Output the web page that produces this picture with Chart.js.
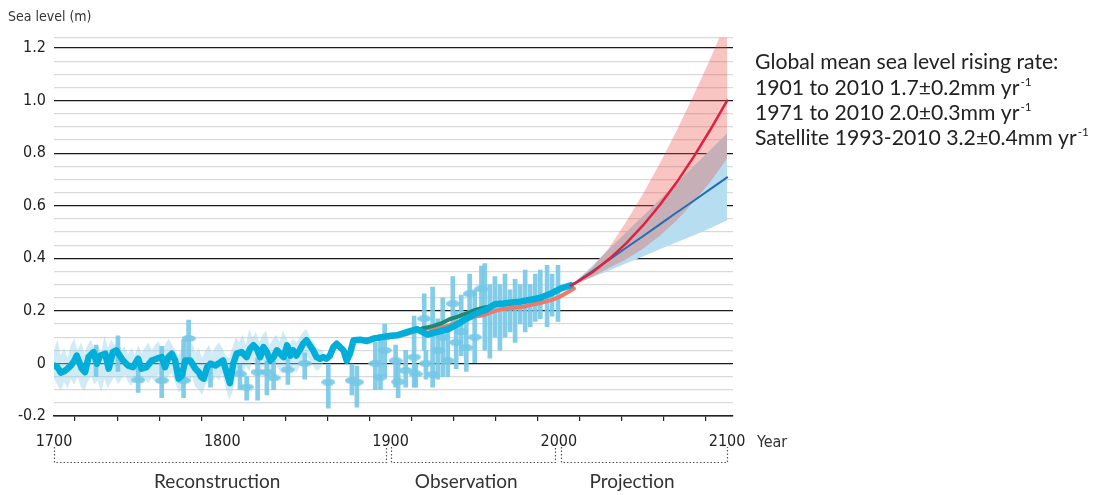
<!DOCTYPE html>
<html>
<head>
<meta charset="utf-8">
<script src="https://cdn.jsdelivr.net/npm/chart.js@4.4.1/dist/chart.umd.min.js"></script>
<style>
html, body { margin: 0; padding: 0; background: #fff; }
#wrap { width: 1104px; height: 495px; }
</style>
</head>
<body>
<div id="wrap"><canvas id="canvas" width="1104" height="495"></canvas></div>
<script>
// reconstruction + observed mean (thick cyan)
var cyanYears = [1700, 1702, 1704, 1706, 1708, 1710, 1712, 1713.5, 1715, 1716.5, 1718.5, 1720.5, 1723.5, 1725.5, 1727.5, 1730.5, 1732.5, 1735, 1737, 1739,
	1741, 1744, 1747, 1750, 1752, 1755, 1758, 1761, 1764, 1766, 1768, 1770, 1772, 1774, 1776, 1778, 1781, 1784, 1786, 1787.5,
	1789, 1791, 1793, 1796, 1799, 1800.5, 1802.5, 1804.5, 1806.5, 1808.5, 1811.5, 1814.5, 1816.5, 1818.5, 1820.5, 1822.5, 1824.5, 1826.5, 1828.5, 1830.5,
	1832.5, 1834.5, 1836.5, 1838.5, 1840.5, 1842, 1844, 1846, 1848, 1850, 1852, 1854, 1856, 1858, 1860, 1862, 1864, 1866, 1868, 1870,
	1872, 1874, 1876, 1878, 1882, 1886, 1890, 1895, 1900, 1904, 1910, 1916, 1922, 1928, 1934, 1940, 1945, 1951, 1957, 1962,
	1967, 1972, 1977, 1983, 1989, 1995, 2001, 2007];
var cyanValues = [-0.008, -0.014, -0.035, -0.030, -0.020, -0.008, 0.010, 0.030, 0.005, -0.020, -0.033, 0.024, 0.043, -0.001, 0.030, 0.037, -0.020, 0.043, 0.050, 0.030,
	0.011, -0.008, -0.014, 0.018, -0.020, -0.014, 0.011, 0.018, 0.024, -0.014, 0.024, 0.037, 0.011, -0.058, -0.046, 0.011, 0.011, -0.020, -0.033, -0.052,
	-0.058, -0.014, -0.001, -0.008, 0.005, 0.011, -0.033, -0.075, -0.001, 0.037, 0.043, 0.024, 0.056, 0.069, 0.056, 0.024, 0.062, 0.043, 0.011, 0.024,
	0.050, 0.037, 0.024, 0.069, 0.030, 0.050, 0.030, 0.050, 0.075, 0.088, 0.069, 0.050, 0.024, 0.018, 0.024, 0.018, 0.030, 0.062, 0.075, 0.062,
	0.050, 0.010, 0.040, 0.088, 0.090, 0.085, 0.095, 0.100, 0.105, 0.107, 0.120, 0.130, 0.110, 0.120, 0.130, 0.150, 0.170, 0.190, 0.205, 0.225,
	0.228, 0.232, 0.235, 0.242, 0.250, 0.265, 0.285, 0.297];

// uncertainty of the reconstruction
var bandYears = [1700, 1702, 1704, 1706, 1708, 1710, 1712, 1714, 1716, 1718, 1720, 1722, 1724, 1726, 1728, 1730, 1732, 1734, 1736, 1738,
	1740, 1742, 1744, 1746, 1748, 1750, 1752, 1754, 1756, 1758, 1760, 1762, 1764, 1766, 1768, 1770, 1772, 1774, 1776, 1778,
	1780, 1782, 1784, 1786, 1788, 1790, 1792, 1794, 1796, 1798, 1800, 1802, 1804, 1806, 1808, 1810, 1812, 1814, 1816, 1818,
	1820, 1822, 1824, 1826, 1828, 1830, 1832, 1834, 1836, 1838, 1840, 1842, 1844, 1846, 1848, 1850, 1852, 1854, 1856, 1858, 1860];
var bandUpper = [0.050, 0.090, 0.030, 0.060, 0.020, 0.070, 0.095, 0.050, 0.080, 0.040, 0.070, 0.090, 0.050, 0.070, 0.040, 0.105, 0.060, 0.090, 0.070, 0.100,
	0.050, 0.065, 0.035, 0.060, 0.030, 0.070, 0.040, 0.060, 0.080, 0.050, 0.070, 0.085, 0.055, 0.070, 0.095, 0.075, 0.050, 0.030, 0.060, 0.090,
	0.060, 0.080, 0.040, 0.060, 0.020, 0.050, 0.070, 0.040, 0.065, 0.080, 0.060, 0.030, 0.020, 0.060, 0.100, 0.080, 0.110, 0.070, 0.130, 0.100,
	0.120, 0.080, 0.110, 0.125, 0.070, 0.090, 0.110, 0.080, 0.125, 0.100, 0.070, 0.095, 0.080, 0.100, 0.120, 0.130, 0.100, 0.085, 0.060, 0.055, 0.050];
var bandLower = [-0.058, -0.080, -0.105, -0.070, -0.095, -0.060, -0.080, -0.050, -0.090, -0.105, -0.070, -0.050, -0.080, -0.065, -0.110, -0.060, -0.095, -0.070, -0.050, -0.080,
	-0.060, -0.045, -0.070, -0.085, -0.060, -0.045, -0.080, -0.060, -0.075, -0.055, -0.070, -0.040, -0.060, -0.080, -0.050, -0.035, -0.070, -0.110, -0.100, -0.060,
	-0.075, -0.050, -0.090, -0.100, -0.120, -0.080, -0.060, -0.075, -0.050, -0.065, -0.040, -0.090, -0.140, -0.110, -0.040, -0.020, -0.040, -0.010, -0.030, 0.010,
	-0.020, -0.045, -0.010, -0.030, -0.050, -0.020, 0.000, -0.030, -0.040, 0.010, -0.030, -0.010, -0.035, -0.010, 0.020, 0.030, 0.010, -0.010, -0.030, -0.020, 0.000];

// other observation curves
var greenYears = [1900, 1905, 1910, 1915, 1920, 1925, 1930, 1935, 1940, 1945, 1950, 1955, 1960, 1965, 1970, 1975, 1980, 1985, 1990];
var greenValues = [0.105, 0.112, 0.118, 0.125, 0.135, 0.142, 0.152, 0.168, 0.178, 0.190, 0.203, 0.212, 0.218, 0.224, 0.228, 0.233, 0.238, 0.243, 0.248];
var salmonYears = [1880, 1885, 1890, 1895, 1900, 1905, 1910, 1915, 1920, 1925, 1930, 1935, 1940, 1945, 1950, 1955, 1960, 1965, 1970, 1975,
	1980, 1985, 1990, 1995, 2000, 2005, 2009];
var salmonValues = [0.090, 0.092, 0.095, 0.098, 0.100, 0.105, 0.112, 0.125, 0.135, 0.130, 0.135, 0.145, 0.157, 0.168, 0.178, 0.183, 0.195, 0.205, 0.210, 0.213,
	0.217, 0.225, 0.232, 0.240, 0.252, 0.270, 0.285];

// individual records with error bars (null = no marker)
var gaugeYears = [1725, 1738, 1750, 1764, 1777, 1780, 1793, 1810.5, 1814.5, 1821, 1826.5, 1830.5, 1839, 1849, 1863, 1877, 1880, 1891, 1894, 1896.5,
	1903, 1904.5, 1909, 1914, 1915, 1920, 1921, 1925, 1928, 1931, 1934, 1937, 1939, 1942, 1945, 1947, 1950, 1954, 1956, 1959,
	1962, 1965, 1968, 1971, 1974, 1977, 1980, 1983, 1986, 1989, 1993, 1996, 1999.5];
var gaugeValues = [null, null, -0.063, -0.065, -0.065, 0.095, null, -0.040, -0.090, -0.033, -0.033, -0.055, -0.024, 0.000, -0.071, -0.065, -0.071, 0.000, -0.052, 0.050,
	0.010, -0.070, -0.027, 0.024, -0.040, 0.170, 0.000, -0.042, 0.050, 0.100, 0.010, 0.227, 0.080, 0.120, 0.060, 0.265, 0.100, 0.284, null, null,
	null, null, null, null, null, null, null, null, null, null, null, null, null];
var gaugeLow = [-0.050, -0.030, -0.110, -0.130, -0.130, 0.010, -0.090, -0.100, -0.140, -0.140, -0.120, -0.100, -0.080, -0.060, -0.170, -0.120, -0.166, -0.100, -0.100, -0.050,
	-0.090, -0.130, -0.090, -0.090, -0.090, 0.050, -0.060, -0.090, -0.060, -0.050, -0.050, 0.140, -0.020, 0.030, -0.030, 0.180, 0.000, 0.200, 0.050, 0.020,
	0.100, 0.050, 0.100, 0.120, 0.080, 0.150, 0.120, 0.140, 0.160, 0.170, 0.140, 0.180, 0.160];
var gaugeHigh = [0.070, 0.105, -0.015, 0.065, 0.090, 0.165, 0.010, 0.000, -0.050, 0.020, 0.010, 0.010, 0.020, 0.040, 0.000, 0.000, -0.010, 0.080, 0.110, 0.150,
	0.070, 0.010, 0.050, 0.180, 0.000, 0.265, 0.050, 0.290, 0.170, 0.250, 0.150, 0.330, 0.200, 0.260, 0.180, 0.340, 0.280, 0.370, 0.380, 0.300,
	0.330, 0.300, 0.340, 0.280, 0.320, 0.300, 0.355, 0.300, 0.340, 0.355, 0.373, 0.340, 0.373];

// projections
var projYears = [2007, 2010, 2020, 2030, 2040, 2050, 2060, 2070, 2080, 2090, 2100];
var highMean = [0.297, 0.306, 0.347, 0.398, 0.457, 0.525, 0.603, 0.689, 0.785, 0.889, 1.000];
var highUpper = [0.297, 0.313, 0.365, 0.441, 0.539, 0.645, 0.761, 0.885, 1.019, 1.158, 1.310];
var highLower = [0.297, 0.300, 0.331, 0.364, 0.396, 0.436, 0.486, 0.544, 0.614, 0.690, 0.780];
var lowMean = [0.297, 0.308, 0.351, 0.395, 0.440, 0.484, 0.529, 0.574, 0.618, 0.663, 0.708];
var lowUpper = [0.297, 0.313, 0.373, 0.436, 0.499, 0.561, 0.624, 0.687, 0.749, 0.812, 0.876];
var lowLower = [0.297, 0.303, 0.328, 0.354, 0.381, 0.407, 0.434, 0.461, 0.487, 0.514, 0.545];

// texts
var yTitle = 'Sea level (m)';
var xTitle = 'Year';
var rateTitle = 'Global mean sea level rising rate:';
var rateLines = ['1901 to 2010 1.7\u00b10.2mm yr', '1971 to 2010 2.0\u00b10.3mm yr', 'Satellite 1993-2010 3.2\u00b10.4mm yr'];
var periodNames = ['Reconstruction', 'Observation', 'Projection'];
var periodStart = [1700, 1900, 2001.5];
var periodEnd = [1897.5, 1998, 2100];

var NARROW = "'Liberation Sans Narrow', 'DejaVu Sans Condensed', 'Roboto', sans-serif";
var HUMAN = "Lato, 'Open Sans', sans-serif";
var gaugeColor = 'rgba(118,200,231,0.9)';

function pts(xs, ys) {
	var out = [];
	for (var i = 0; i < xs.length; i++) {
		if (ys[i] !== null) out.push({x: xs[i], y: ys[i]});
	}
	return out;
}
function isMajor(v) {
	var k = v / 0.2;
	return Math.abs(k - Math.round(k)) < 1e-6;
}

var dot = document.createElement('canvas');
dot.width = 14; dot.height = 7;
var dc = dot.getContext('2d');
dc.fillStyle = gaugeColor;
dc.beginPath();
dc.ellipse(7, 3.5, 7, 3.5, 0, 0, Math.PI * 2);
dc.fill();

var gaugeBars = gaugeYears.map(function(x, i) { return {x: x, y: [gaugeLow[i], gaugeHigh[i]]}; });

function lineSet(data, color, width, order) {
	return {type: 'line', data: data, borderColor: color, borderWidth: width, pointRadius: 0,
		fill: false, order: order, borderJoinStyle: 'round', borderCapStyle: 'round'};
}
function bandSet(data, fillColor, order, fillTo) {
	return {type: 'line', data: data, borderWidth: 0, borderColor: 'rgba(0,0,0,0)', pointRadius: 0,
		backgroundColor: fillColor, fill: fillTo, order: order};
}

var annotations = {
	id: 'annotations',
	afterDraw: function(chart) {
		var ctx = chart.ctx;
		var xs = chart.scales.x;
		ctx.save();
		ctx.fillStyle = '#333';
		ctx.textBaseline = 'alphabetic';
		ctx.textAlign = 'left';
		ctx.font = '14px ' + NARROW;
		ctx.fillText(yTitle, 8, 21);
		ctx.font = '16px ' + NARROW;
		ctx.fillText(xTitle, 757, 447);

		// rate text block, sized to the width it takes in the original
		ctx.font = '20px ' + HUMAN;
		var s1 = 20 * 317 / ctx.measureText(rateTitle).width;
		var s2 = 20 * 322 / ctx.measureText(rateLines[2]).width;
		var size = Math.min(s1, s2);
		ctx.fillStyle = '#222';
		ctx.font = size + 'px ' + HUMAN;
		ctx.fillText(rateTitle, 755, 69);
		for (var i = 0; i < rateLines.length; i++) {
			var by = 95 + i * 25;
			ctx.font = size + 'px ' + HUMAN;
			ctx.fillText(rateLines[i], 755, by);
			var w = ctx.measureText(rateLines[i]).width;
			ctx.font = (size * 0.55) + 'px ' + HUMAN;
			ctx.fillText('-1', 755 + w + 1, by - size * 0.42);
		}

		// period brackets
		var labelAt = [1797, 1945, 2043.5];
		ctx.strokeStyle = '#555';
		ctx.lineWidth = 1.2;
		ctx.setLineDash([1.5, 2]);
		for (var p = 0; p < periodNames.length; p++) {
			var a = Math.round(xs.getPixelForValue(periodStart[p])) + 0.5;
			var b = Math.round(xs.getPixelForValue(periodEnd[p])) + 0.5;
			ctx.beginPath();
			ctx.moveTo(a, 447);
			ctx.lineTo(a, 462.5);
			ctx.lineTo(b, 462.5);
			ctx.lineTo(b, 447);
			ctx.stroke();
		}
		ctx.setLineDash([]);
		ctx.fillStyle = '#333';
		ctx.textAlign = 'center';
		ctx.font = '19px ' + HUMAN;
		for (var q = 0; q < periodNames.length; q++) {
			ctx.fillText(periodNames[q], xs.getPixelForValue(labelAt[q]), 488);
		}
		ctx.restore();
	}
};

var config = {
	type: 'line',
	data: {
		datasets: [
			lineSet(pts(projYears, highMean), '#E41F3E', 2.5, 1),
			lineSet(pts(projYears, lowMean), '#1F6EB6', 2, 2),
			lineSet(pts(cyanYears, cyanValues), '#00AED9', 6.5, 3),
			lineSet(pts(greenYears, greenValues), '#1A8A76', 4, 4),
			lineSet(pts(salmonYears, salmonValues), '#F0786A', 4, 5),
			{type: 'line', data: pts(gaugeYears, gaugeValues), showLine: false, pointStyle: dot, pointRadius: 7, order: 6},
			{type: 'bar', data: gaugeBars, backgroundColor: gaugeColor, borderWidth: 0, barThickness: 4, grouped: false, order: 7},
			bandSet(pts(projYears, highUpper), 'rgba(235,80,70,0.33)', 8, '+1'),
			bandSet(pts(projYears, highLower), 'rgba(0,0,0,0)', 9, false),
			bandSet(pts(projYears, lowUpper), 'rgb(183,222,240)', 10, '+1'),
			bandSet(pts(projYears, lowLower), 'rgba(0,0,0,0)', 11, false),
			bandSet(pts(bandYears, bandUpper), 'rgba(150,210,236,0.45)', 12, '+1'),
			bandSet(pts(bandYears, bandLower), 'rgba(0,0,0,0)', 13, false)
		]
	},
	options: {
		responsive: false,
		animation: false,
		layout: {padding: {left: 0, right: 371, top: 37.5, bottom: 39}},
		plugins: {legend: {display: false}, tooltip: {enabled: false}, title: {display: false}},
		scales: {
			x: {
				type: 'linear',
				min: 1700,
				max: 2103.5,
				offset: false,
				afterFit: function(scale) { scale.height = 40; },
				grid: {drawOnChartArea: false, drawTicks: true, tickLength: 5, color: '#222', lineWidth: 1.2},
				border: {display: true, color: '#222', width: 1.5},
				ticks: {
					stepSize: 25,
					includeBounds: false,
					autoSkip: false,
					maxRotation: 0,
					padding: 11,
					color: '#222',
					font: {family: NARROW, size: 16},
					callback: function(v) { return v % 100 === 0 ? String(v) : ''; }
				}
			},
			y: {
				type: 'linear',
				min: -0.2,
				max: 1.24,
				afterFit: function(scale) { scale.width = 54; },
				afterBuildTicks: function(scale) { scale.ticks.push({value: 1.24}); },
				grid: {
					drawTicks: false,
					color: function(c) { return c.tick && isMajor(c.tick.value) ? '#1a1a1a' : '#d9d9d9'; },
					lineWidth: function(c) { return c.tick && isMajor(c.tick.value) ? 1.3 : 1.2; }
				},
				border: {display: false},
				ticks: {
					stepSize: 0.05,
					includeBounds: false,
					autoSkip: false,
					padding: 8,
					color: '#222',
					font: {family: NARROW, size: 16},
					callback: function(v) {
						if (!isMajor(v)) return '';
						return Math.abs(v) < 1e-9 ? '0' : v.toFixed(1);
					}
				}
			}
		}
	},
	plugins: [annotations]
};

window.onload = function() {
	window.seaChart = new Chart(document.getElementById('canvas'), config);
};
</script>
</body>
</html>
